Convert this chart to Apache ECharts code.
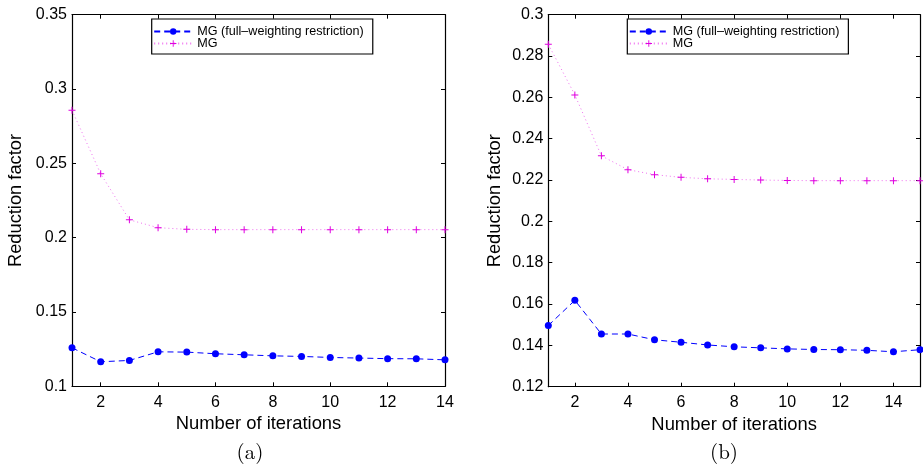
<!DOCTYPE html>
<html>
<head>
<meta charset="utf-8">
<script src="https://cdn.jsdelivr.net/npm/echarts@6/dist/echarts.min.js"></script>
<style>
  html, body { margin: 0; padding: 0; background: #fff; }
  #chart { width: 923px; height: 465px; }
</style>
</head>
<body>
<div id="chart"></div>
<script>
// Reduction factor per multigrid iteration, two test cases (a) and (b)
const seriesNames = ['MG (full\u2013weighting restriction)', 'MG'];

const itersA = [1, 2, 3, 4, 5, 6, 7, 8, 9, 10, 11, 12, 13, 14];
const fullWeightA = [0.1259, 0.1165, 0.1174, 0.1232, 0.1230, 0.1219, 0.1212, 0.1205, 0.1201, 0.1194, 0.1190, 0.1186, 0.1185, 0.1178];
const plainA = [0.2857, 0.2430, 0.2120, 0.2067, 0.2056, 0.2054, 0.2054, 0.2054, 0.2054, 0.2054, 0.2054, 0.2054, 0.2054, 0.2054];

const itersB = [1, 2, 3, 4, 5, 6, 7, 8, 9, 10, 11, 12, 13, 14, 15];
const fullWeightB = [0.1496, 0.1618, 0.1455, 0.1455, 0.1427, 0.1415, 0.1402, 0.1393, 0.1388, 0.1383, 0.1380, 0.1379, 0.1376, 0.1369, 0.1379];
const plainB = [0.2857, 0.2612, 0.2317, 0.2250, 0.2226, 0.2213, 0.2206, 0.2203, 0.2200, 0.2198, 0.2197, 0.2197, 0.2197, 0.2197, 0.2197];

const xTicksA = [2, 4, 6, 8, 10, 12, 14];
const xTicksB = [2, 4, 6, 8, 10, 12, 14];
const yTicksA = [0.1, 0.15, 0.2, 0.25, 0.3, 0.35];
const yTicksB = [0.12, 0.14, 0.16, 0.18, 0.2, 0.22, 0.24, 0.26, 0.28, 0.3];

const captions = ['(a)', '(b)'];
const yName = 'Reduction factor';
const xName = 'Number of iterations';

const SANS = '"Liberation Sans", Arial, Helvetica, sans-serif';
const SERIF = '"Latin Modern Roman", "CMU Serif", "DejaVu Serif", serif';
const BLUE = '#0000ff';
const MAGENTA = '#e000e0';
const PLUS = 'path://M0,3 h3 v-3 h1 v3 h3 v1 h-3 v3 h-1 v-3 h-3 z';

const zip = (xs, ys) => xs.map((x, i) => [x, ys[i]]);

function xAxisPair(gridIndex, min, max, ticks) {
  const base = {
    type: 'value', gridIndex, min, max,
    splitLine: { show: false },
    axisLine: { show: true, onZero: false, lineStyle: { color: '#000', width: 1.2 } },
    axisTick: { show: true, inside: true, length: 4, customValues: ticks, lineStyle: { color: '#000' } }
  };
  return [
    Object.assign({}, base, {
      position: 'bottom',
      name: xName, nameLocation: 'middle', nameGap: 27.5,
      nameTextStyle: { fontFamily: SANS, fontSize: 18.4, color: '#000' },
      axisLabel: { show: true, customValues: ticks, margin: 8, fontFamily: SANS, fontSize: 16, color: '#000' }
    }),
    Object.assign({}, base, { position: 'top', axisLabel: { show: false } })
  ];
}

function yAxisPair(gridIndex, ticks, nameGap) {
  const min = ticks[0], max = ticks[ticks.length - 1];
  const base = {
    type: 'value', gridIndex, min, max,
    splitLine: { show: false },
    axisLine: { show: true, onZero: false, lineStyle: { color: '#000', width: 1.2 } },
    axisTick: { show: true, inside: true, length: 4, customValues: ticks, lineStyle: { color: '#000' } }
  };
  return [
    Object.assign({}, base, {
      position: 'left',
      name: yName, nameLocation: 'middle', nameGap,
      nameTextStyle: { fontFamily: SANS, fontSize: 18.3, color: '#000' },
      axisLabel: {
        show: true, customValues: ticks, margin: 5, fontFamily: SANS, fontSize: 16, color: '#000',
        formatter: v => String(parseFloat(v.toFixed(4)))
      }
    }),
    Object.assign({}, base, { position: 'right', axisLabel: { show: false } })
  ];
}

function fullWeightSeries(xi, yi, data) {
  return {
    name: seriesNames[0], type: 'line', xAxisIndex: xi, yAxisIndex: yi,
    data, symbol: 'circle', symbolSize: 7, showAllSymbol: true,
    itemStyle: { color: BLUE },
    lineStyle: { color: BLUE, width: 1, type: [6, 4] },
    animation: false, z: 3
  };
}

function plainSeries(xi, yi, data) {
  return {
    name: seriesNames[1], type: 'line', xAxisIndex: xi, yAxisIndex: yi,
    data, symbol: PLUS, symbolSize: 7, showAllSymbol: true,
    itemStyle: { color: MAGENTA },
    lineStyle: { color: '#f070f0', width: 1, type: [1, 3] },
    animation: false, z: 2
  };
}

function legendAt(left) {
  return {
    orient: 'vertical', left, top: 19,
    data: seriesNames,
    itemWidth: 38, itemHeight: 8, itemGap: -1,
    padding: [6, 9, 4, 1.5],
    borderColor: '#000', borderWidth: 1.2, backgroundColor: '#fff',
    textStyle: { fontFamily: SANS, fontSize: 12.6, color: '#000' },
    selectedMode: false
  };
}

const chart = echarts.init(document.getElementById('chart'), null, { renderer: 'canvas' });
chart.setOption({
  animation: false,
  backgroundColor: '#fff',
  grid: [
    { left: 72, top: 14.7, right: 478, bottom: 78.7, containLabel: false },
    { left: 548.3, top: 14.7, right: 3, bottom: 78.3, containLabel: false }
  ],
  xAxis: [...xAxisPair(0, itersA[0], itersA[itersA.length - 1], xTicksA),
          ...xAxisPair(1, itersB[0], itersB[itersB.length - 1], xTicksB)],
  yAxis: [...yAxisPair(0, yTicksA, 47.5), ...yAxisPair(1, yTicksB, 44)],
  legend: [legendAt(151.7), legendAt(627.3)],
  title: [
    { text: captions[0], left: 245, top: 437, textAlign: 'center',
      textStyle: { fontFamily: SERIF, fontSize: 21, fontWeight: 'normal', color: '#000' } },
    { text: captions[1], left: 719, top: 437, textAlign: 'center',
      textStyle: { fontFamily: SERIF, fontSize: 21, fontWeight: 'normal', color: '#000' } }
  ],
  series: [
    fullWeightSeries(0, 0, zip(itersA, fullWeightA)),
    plainSeries(0, 0, zip(itersA, plainA)),
    fullWeightSeries(2, 2, zip(itersB, fullWeightB)),
    plainSeries(2, 2, zip(itersB, plainB))
  ]
});
</script>
</body>
</html>
